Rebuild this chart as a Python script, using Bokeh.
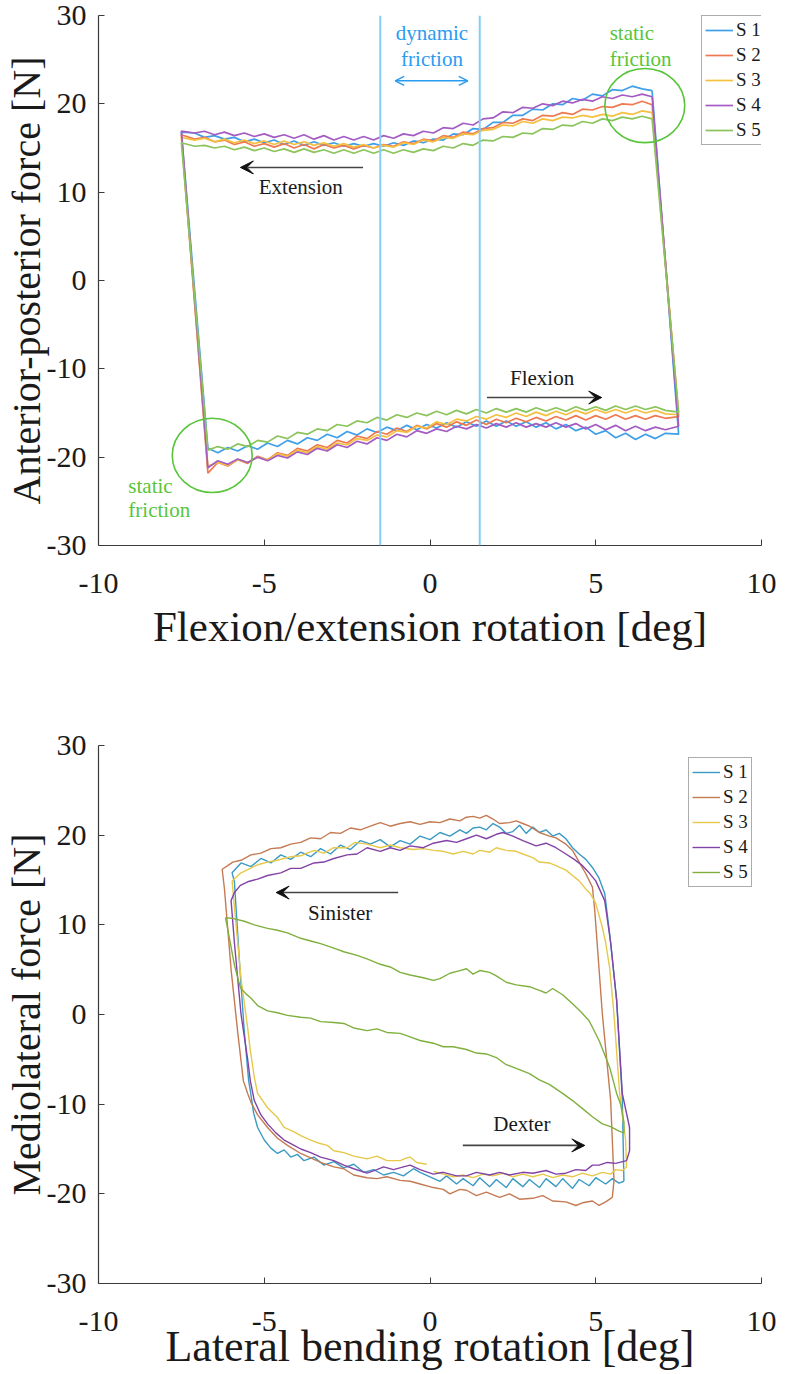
from bokeh.plotting import figure
from bokeh.models import (Range1d, FixedTicker, Legend, LegendItem, Label,
                          Arrow, VeeHead, OpenHead, Span)
from bokeh.layouts import column
from bokeh.embed import file_html
from bokeh.resources import INLINE

SERIES = ["S 1", "S 2", "S 3", "S 4", "S 5"]
FE_COLORS = ["#3f9fe8", "#ef7a50", "#f5c040", "#a45cc2", "#8cc45c"]
LB_COLORS = ["#3a9ac4", "#c47a52", "#e6c94a", "#8242a6", "#7fb03e"]

X_TICKS = [-10, -5, 0, 5, 10]
X_TICK_LABELS = ["-10", "-5", "0", "5", "10"]
Y_TICKS = [-30, -20, -10, 0, 10, 20, 30]
Y_TICK_LABELS = ["-30", "-20", "-10", "0", "10", "20", "30"]

# ---------------- flexion / extension (upper chart) ----------------
# rotation samples along the extension stroke (moving left) and flexion stroke (moving right)
FE_EXT_X = [6.7, 6.4, 6.1, 5.8, 5.5, 5.2, 4.9, 4.6, 4.3, 4.0, 3.7, 3.4, 3.1, 2.8, 2.5, 2.2,
            1.9, 1.6, 1.3, 1.0, 0.7, 0.4, 0.1, -0.2, -0.5, -0.8, -1.1, -1.4, -1.7, -2.0, -2.3,
            -2.6, -2.9, -3.2, -3.5, -3.8, -4.1, -4.4, -4.7, -5.0, -5.3, -5.6, -5.9, -6.2, -6.5,
            -6.8, -7.1, -7.5]
FE_FLEX_X = [-6.7, -6.4, -6.1, -5.8, -5.5, -5.2, -4.9, -4.6, -4.3, -4.0, -3.7, -3.4, -3.1, -2.8,
             -2.5, -2.2, -1.9, -1.6, -1.3, -1.0, -0.7, -0.4, -0.1, 0.2, 0.5, 0.8, 1.1, 1.4, 1.7,
             2.0, 2.3, 2.6, 2.9, 3.2, 3.5, 3.8, 4.1, 4.4, 4.7, 5.0, 5.3, 5.6, 5.9, 6.2, 6.5, 6.8,
             7.1, 7.5]

FE_EXT_S1 = [21.5, 21.7, 22.0, 21.5, 21.6, 20.9, 21.1, 20.4, 20.6, 19.9, 20.0, 19.3, 19.4, 18.7,
             18.7, 17.9, 17.9, 17.1, 17.2, 16.5, 16.6, 15.9, 16.0, 15.6, 15.8, 15.3, 15.6, 15.2,
             15.5, 15.2, 15.5, 15.2, 15.6, 15.3, 15.7, 15.3, 15.8, 15.4, 15.9, 15.6, 16.0, 15.7,
             16.2, 16.0, 16.4, 16.2, 16.7, 16.8]
FE_EXT_S2 = [19.9, 20.3, 19.9, 20.0, 19.6, 19.7, 19.3, 19.4, 18.8, 19.0, 18.6, 18.7, 18.1, 18.3,
             17.8, 17.9, 17.3, 17.2, 16.6, 16.8, 16.2, 16.4, 15.8, 16.0, 15.5, 15.7, 15.2, 15.4,
             15.0, 15.3, 14.9, 15.3, 15.0, 15.4, 14.9, 15.4, 15.0, 15.5, 15.1, 15.5, 15.2, 15.7,
             15.4, 15.9, 15.7, 16.2, 16.0, 16.5]
FE_EXT_S3 = [19.0, 19.2, 18.8, 19.0, 18.6, 18.8, 18.5, 18.7, 18.4, 18.5, 18.1, 18.3, 17.8, 18.0,
             17.5, 17.6, 17.1, 17.0, 16.5, 16.6, 16.1, 16.2, 15.7, 15.9, 15.4, 15.6, 15.1, 15.3,
             15.0, 15.4, 15.1, 15.5, 15.2, 15.6, 15.3, 15.7, 15.4, 15.8, 15.4, 15.8, 15.5, 15.9,
             15.6, 16.0, 15.7, 16.1, 15.9, 16.2]
FE_EXT_S4 = [20.8, 21.1, 20.8, 21.0, 20.6, 20.8, 20.3, 20.5, 20.1, 20.3, 19.8, 20.0, 19.5, 19.6,
             19.0, 19.1, 18.4, 18.3, 17.6, 17.8, 17.2, 17.3, 16.7, 16.9, 16.4, 16.6, 16.1, 16.4,
             15.9, 16.3, 15.9, 16.3, 15.9, 16.4, 16.0, 16.5, 16.1, 16.5, 16.2, 16.6, 16.3, 16.7,
             16.4, 16.8, 16.5, 16.9, 16.7, 16.9]
FE_EXT_S5 = [18.3, 18.6, 18.3, 18.5, 18.1, 18.3, 17.8, 18.0, 17.5, 17.6, 17.1, 17.2, 16.6, 16.7,
             16.2, 16.3, 15.8, 15.9, 15.3, 15.5, 15.0, 15.2, 14.7, 14.9, 14.5, 14.8, 14.4, 14.8,
             14.4, 14.8, 14.4, 14.8, 14.4, 14.8, 14.5, 14.9, 14.5, 14.9, 14.6, 15.0, 14.7, 15.1,
             14.8, 15.2, 15.0, 15.3, 15.2, 15.6]

FE_FLEX_S1 = [-19.0, -19.5, -18.9, -19.3, -18.7, -19.1, -18.4, -18.8, -18.1, -18.5, -17.8, -18.1,
              -17.4, -17.8, -17.1, -17.5, -16.8, -17.2, -16.6, -17.0, -16.4, -16.9, -16.3, -16.7,
              -16.1, -16.6, -16.0, -16.5, -15.9, -16.5, -15.9, -16.5, -16.0, -16.6, -16.1, -16.8,
              -16.3, -17.0, -16.6, -17.4, -17.0, -17.8, -17.3, -18.0, -17.4, -17.9, -17.3, -17.4]
FE_FLEX_S2 = [-21.8, -20.6, -21.0, -20.3, -20.7, -19.9, -20.3, -19.5, -19.8, -19.0, -19.3, -18.6,
              -18.9, -18.1, -18.4, -17.6, -17.9, -17.1, -17.4, -16.7, -17.1, -16.4, -16.8, -16.2,
              -16.6, -16.0, -16.4, -15.8, -16.3, -15.7, -16.1, -15.6, -16.0, -15.5, -15.9, -15.4,
              -15.8, -15.3, -15.8, -15.3, -15.7, -15.2, -15.7, -15.3, -15.7, -15.3, -15.6, -15.4]
FE_FLEX_S3 = [-21.0, -20.6, -20.9, -20.3, -20.6, -20.0, -20.3, -19.6, -19.9, -19.2, -19.5, -18.8,
              -19.1, -18.4, -18.6, -17.9, -18.1, -17.5, -17.7, -17.0, -17.2, -16.5, -16.7, -16.0,
              -16.3, -15.7, -15.9, -15.4, -15.7, -15.2, -15.5, -15.0, -15.4, -14.9, -15.3, -14.8,
              -15.2, -14.7, -15.1, -14.6, -15.0, -14.6, -15.0, -14.6, -15.0, -14.7, -15.1, -15.2]
FE_FLEX_S4 = [-21.2, -20.4, -20.8, -20.2, -20.6, -20.0, -20.4, -19.8, -20.1, -19.4, -19.7, -19.0,
              -19.3, -18.6, -18.9, -18.2, -18.5, -17.8, -18.1, -17.4, -17.7, -17.0, -17.3, -16.8,
              -17.1, -16.5, -16.8, -16.3, -16.7, -16.2, -16.6, -16.1, -16.6, -16.2, -16.6, -16.1,
              -16.6, -16.2, -16.8, -16.3, -16.9, -16.4, -17.0, -16.5, -17.0, -16.6, -16.9, -16.5]
FE_FLEX_S5 = [-19.2, -18.8, -19.1, -18.5, -18.8, -18.1, -18.3, -17.6, -17.9, -17.2, -17.4, -16.8,
              -17.0, -16.3, -16.5, -15.9, -16.1, -15.5, -15.8, -15.2, -15.5, -15.0, -15.3, -14.8,
              -15.2, -14.7, -15.1, -14.6, -15.0, -14.5, -14.9, -14.5, -14.9, -14.4, -14.8, -14.4,
              -14.8, -14.3, -14.7, -14.3, -14.7, -14.2, -14.6, -14.2, -14.6, -14.3, -14.7, -14.9]

FE_EXT = [FE_EXT_S1, FE_EXT_S2, FE_EXT_S3, FE_EXT_S4, FE_EXT_S5]
FE_FLEX = [FE_FLEX_S1, FE_FLEX_S2, FE_FLEX_S3, FE_FLEX_S4, FE_FLEX_S5]

# ---------------- lateral bending (lower chart) ----------------
# (rotation [deg], force [N]) samples around each hysteresis loop
LB_S1 = [(5.85, -18.6), (5.8, -9.3), (5.63, 1.6), (5.42, 9.0), (5.27, 13.5), (5.1, 15.2), (4.9, 16.4),
         (4.7, 17.3), (4.5, 17.9), (4.3, 18.6), (4.1, 19.6), (3.9, 20.2), (3.7, 19.9), (3.5, 20.6),
         (3.3, 20.3), (3.1, 20.9), (2.9, 20.2), (2.7, 21.1), (2.5, 20.4), (2.3, 20.2), (2.1, 20.9),
         (1.9, 21.3), (1.7, 20.6), (1.5, 20.9), (1.3, 20.8), (1.1, 20.2), (0.9, 20.6), (0.6, 19.9),
         (0.3, 20.3), (0.0, 19.5), (-0.3, 19.9), (-0.6, 19.0), (-0.9, 19.4), (-1.2, 18.7), (-1.5, 19.5),
         (-1.8, 19.0), (-2.1, 19.4), (-2.4, 18.4), (-2.7, 18.9), (-3.0, 17.9), (-3.3, 18.5), (-3.6, 17.6),
         (-3.9, 18.1), (-4.2, 17.3), (-4.5, 17.8), (-4.8, 16.9), (-5.1, 17.4), (-5.4, 16.5), (-5.7, 16.9),
         (-5.97, 15.8), (-5.9, 14.8), (-5.75, 6.0), (-5.6, -2.0), (-5.47, -7.4), (-5.42, -8.5),
         (-5.32, -11.0), (-5.2, -12.6), (-5.0, -14.0), (-4.8, -14.9), (-4.6, -15.5), (-4.4, -15.1),
         (-4.2, -15.9), (-4.0, -15.6), (-3.8, -16.3), (-3.5, -15.9), (-3.2, -16.8), (-2.9, -16.4),
         (-2.6, -17.1), (-2.3, -16.7), (-2.0, -17.6), (-1.7, -17.3), (-1.4, -17.9), (-1.1, -17.6),
         (-0.8, -18.0), (-0.5, -17.2), (-0.3, -17.6), (0.0, -18.1), (0.3, -18.6), (0.5, -18.0),
         (0.8, -18.9), (1.0, -18.3), (1.3, -19.1), (1.5, -18.2), (1.8, -19.2), (2.0, -18.4),
         (2.3, -19.3), (2.5, -18.3), (2.8, -19.2), (3.0, -18.4), (3.3, -19.3), (3.5, -18.3),
         (3.8, -19.2), (4.0, -18.3), (4.3, -19.4), (4.5, -18.4), (4.8, -19.1), (5.0, -18.2),
         (5.3, -18.9), (5.5, -18.3), (5.7, -18.8), (5.85, -18.6)]
LB_S2 = [(5.5, -20.4), (5.55, -18.5), (5.45, -9.6), (5.2, 0.0), (4.97, 11.6), (4.9, 14.2), (4.7, 15.7),
         (4.5, 17.0), (4.3, 18.3), (4.1, 19.0), (3.8, 19.7), (3.6, 19.9), (3.3, 20.3), (3.0, 21.0),
         (2.8, 21.3), (2.6, 21.6), (2.4, 21.4), (2.1, 21.3), (1.9, 21.8), (1.7, 22.2), (1.5, 21.9),
         (1.3, 22.1), (1.1, 22.0), (0.9, 21.6), (0.6, 21.8), (0.3, 21.4), (0.0, 21.5), (-0.3, 21.2),
         (-0.6, 21.5), (-0.9, 21.3), (-1.2, 21.0), (-1.5, 21.4), (-1.8, 21.0), (-2.1, 20.6),
         (-2.4, 20.8), (-2.7, 20.2), (-3.0, 20.3), (-3.3, 19.6), (-3.6, 19.7), (-3.9, 19.2),
         (-4.2, 19.0), (-4.5, 18.6), (-4.8, 18.5), (-5.1, 18.0), (-5.4, 17.8), (-5.7, 17.2),
         (-5.95, 17.0), (-6.1, 16.6), (-6.27, 16.2), (-6.2, 14.0), (-6.0, 5.0), (-5.8, -2.0),
         (-5.63, -7.4), (-5.5, -8.8), (-5.4, -9.8), (-5.2, -11.2), (-4.9, -12.6), (-4.6, -13.8),
         (-4.3, -14.6), (-3.9, -15.5), (-3.6, -16.0), (-3.3, -16.5), (-2.9, -17.0), (-2.6, -17.2),
         (-2.3, -17.9), (-1.9, -18.2), (-1.6, -18.3), (-1.3, -18.1), (-0.9, -18.5), (-0.6, -18.6),
         (-0.3, -18.9), (0.1, -19.3), (0.4, -19.5), (0.6, -20.0), (0.9, -19.5), (1.1, -19.6),
         (1.4, -20.2), (1.7, -19.8), (2.1, -20.4), (2.4, -20.0), (2.7, -20.6), (3.1, -20.5),
         (3.4, -20.2), (3.7, -20.8), (4.1, -20.9), (4.4, -21.3), (4.6, -21.0), (4.9, -20.8),
         (5.1, -21.3), (5.3, -20.9), (5.5, -20.4)]
LB_S3 = [(0.1, -17.5), (0.4, -17.8), (0.7, -18.1), (1.0, -17.9), (1.3, -18.2), (1.6, -17.8),
         (1.9, -18.0), (2.2, -17.7), (2.5, -18.1), (2.8, -17.8), (3.1, -18.1), (3.4, -17.8),
         (3.7, -18.2), (4.0, -17.9), (4.3, -18.1), (4.6, -17.7), (4.9, -18.0), (5.2, -17.6),
         (5.45, -17.8), (5.6, -17.3), (5.8, -17.4), (5.93, -17.0), (5.9, -14.0), (5.72, -8.8),
         (5.55, 0.0), (5.42, 5.2), (5.3, 8.0), (5.2, 9.7), (5.0, 12.4), (4.85, 13.4), (4.7, 14.0),
         (4.5, 14.9), (4.3, 15.5), (4.1, 16.1), (3.8, 16.6), (3.6, 16.9), (3.3, 17.0), (3.1, 17.5),
         (2.8, 17.9), (2.6, 18.2), (2.3, 18.3), (2.0, 18.6), (1.8, 18.1), (1.5, 18.3), (1.3, 17.9),
         (1.0, 18.2), (0.7, 17.9), (0.4, 18.2), (0.1, 18.3), (-0.2, 18.5), (-0.5, 18.4), (-0.9, 18.6),
         (-1.2, 18.9), (-1.5, 18.6), (-1.9, 19.0), (-2.26, 19.2), (-2.5, 18.6), (-2.9, 18.6),
         (-3.2, 18.0), (-3.5, 18.3), (-3.9, 17.7), (-4.2, 17.6), (-4.6, 17.2), (-4.9, 17.0),
         (-5.2, 16.7), (-5.42, 16.3), (-5.7, 15.8), (-5.97, 14.9), (-5.9, 12.0), (-5.7, 4.0),
         (-5.5, -1.5), (-5.42, -4.0), (-5.3, -7.0), (-5.2, -8.8), (-4.9, -10.4), (-4.6, -11.5),
         (-4.4, -12.6), (-4.1, -13.1), (-3.9, -13.5), (-3.6, -14.0), (-3.4, -14.3), (-3.1, -14.6),
         (-2.9, -15.2), (-2.6, -15.4), (-2.3, -15.8), (-1.9, -16.1), (-1.6, -15.8), (-1.3, -16.3),
         (-0.9, -16.3), (-0.7, -16.0), (-0.6, -15.9), (-0.4, -16.5), (-0.1, -16.7)]
LB_S4 = [(5.6, -16.6), (5.93, -16.3), (6.02, -15.2), (6.02, -12.6), (5.8, -8.8), (5.63, 1.6),
         (5.45, 8.0), (5.27, 12.7), (5.0, 14.9), (4.8, 15.8), (4.6, 16.6), (4.35, 17.3), (4.1, 17.9),
         (3.8, 18.6), (3.5, 19.1), (3.2, 18.8), (2.8, 19.4), (2.5, 19.9), (2.2, 20.3), (2.0, 20.1),
         (1.7, 19.6), (1.4, 20.0), (1.1, 19.6), (0.8, 19.2), (0.5, 19.4), (0.1, 19.1), (-0.2, 18.6),
         (-0.6, 18.8), (-0.9, 18.3), (-1.2, 18.6), (-1.5, 18.2), (-1.9, 18.6), (-2.2, 17.9),
         (-2.5, 17.8), (-2.9, 17.4), (-3.2, 17.0), (-3.5, 16.9), (-3.9, 16.3), (-4.2, 16.3),
         (-4.5, 15.8), (-4.9, 15.5), (-5.2, 15.1), (-5.5, 14.8), (-5.72, 14.4), (-5.9, 13.6),
         (-6.0, 12.7), (-5.9, 8.0), (-5.7, 0.0), (-5.5, -5.0), (-5.42, -7.4), (-5.3, -9.6),
         (-5.1, -11.2), (-4.9, -12.2), (-4.65, -13.2), (-4.4, -14.0), (-4.1, -14.6), (-3.9, -15.0),
         (-3.6, -15.4), (-3.3, -15.9), (-2.9, -16.3), (-2.6, -16.8), (-2.3, -17.2), (-1.9, -17.7),
         (-1.6, -17.3), (-1.4, -17.0), (-1.1, -17.3), (-0.8, -17.0), (-0.6, -16.8), (-0.3, -17.3),
         (0.1, -17.8), (0.4, -17.6), (0.8, -18.0), (1.1, -18.0), (1.4, -17.6), (1.8, -17.9),
         (2.1, -17.6), (2.4, -17.9), (2.8, -17.6), (3.1, -17.7), (3.5, -17.4), (3.8, -17.8),
         (4.1, -17.7), (4.4, -17.3), (4.7, -17.4), (4.9, -16.8), (5.1, -16.8), (5.35, -16.5),
         (5.6, -16.6)]
LB_S5 = [(-6.17, 10.8), (-6.1, 9.5), (-6.0, 7.5), (-5.9, 5.5), (-5.72, 3.0), (-5.55, 2.3),
         (-5.42, 1.9), (-5.2, 1.0), (-4.9, 0.4), (-4.6, 0.2), (-4.3, -0.1), (-3.9, -0.3), (-3.6, -0.4),
         (-3.3, -0.8), (-2.9, -0.9), (-2.6, -1.0), (-2.3, -1.5), (-1.9, -1.8), (-1.6, -1.6),
         (-1.3, -2.0), (-0.9, -2.1), (-0.6, -2.5), (-0.3, -2.9), (0.1, -3.2), (0.4, -3.6), (0.7, -3.6),
         (1.1, -3.9), (1.4, -4.3), (1.7, -4.4), (2.0, -4.8), (2.3, -5.6), (2.6, -6.0), (3.0, -6.6),
         (3.3, -7.3), (3.6, -7.8), (4.0, -8.8), (4.3, -9.6), (4.6, -10.5), (4.9, -11.4), (5.2, -12.2),
         (5.45, -12.5), (5.7, -13.0), (5.85, -13.2), (5.85, -12.0), (5.75, -10.0), (5.63, -8.8),
         (5.42, -5.9), (5.25, -4.3), (5.1, -2.9), (4.8, -0.7), (4.55, 0.3), (4.3, 1.2), (4.0, 2.2),
         (3.7, 2.9), (3.5, 2.4), (3.3, 2.7), (3.0, 3.1), (2.6, 3.3), (2.3, 3.6), (2.0, 4.3), (1.8, 4.7),
         (1.5, 4.9), (1.3, 4.5), (1.1, 5.1), (0.9, 4.9), (0.6, 4.6), (0.3, 4.0), (0.1, 3.8),
         (-0.2, 4.1), (-0.6, 4.4), (-0.9, 4.7), (-1.2, 5.3), (-1.5, 5.6), (-1.9, 6.2), (-2.2, 6.6),
         (-2.6, 7.0), (-2.9, 7.4), (-3.3, 7.9), (-3.6, 8.2), (-3.9, 8.5), (-4.3, 9.1), (-4.6, 9.4),
         (-4.9, 9.6), (-5.3, 10.0), (-5.6, 10.4), (-5.93, 10.7), (-6.17, 10.8)]

LB_LOOPS = [LB_S1, LB_S2, LB_S3, LB_S4, LB_S5]

SERIF = "Liberation Serif"
AXIS_COLOR = "#3a3a3a"
TEXT_COLOR = "#1a1a1a"
FRICTION_BLUE = "#2a9cf0"
SPAN_BLUE = "#86cdf7"
STATIC_GREEN = "#58c53a"


def make_figure(border_top, frame_h, border_bottom, xlabel, ylabel, xlabel_size, xlabel_standoff):
    p = figure(frame_width=663, frame_height=frame_h,
               min_border_left=97, min_border_right=26,
               min_border_top=border_top, min_border_bottom=border_bottom,
               x_range=Range1d(-10, 10), y_range=Range1d(-30, 30),
               output_backend="svg", toolbar_location=None,
               background_fill_color="white", border_fill_color="white")
    p.outline_line_color = None
    p.grid.visible = False
    p.xaxis.ticker = FixedTicker(ticks=X_TICKS)
    p.yaxis.ticker = FixedTicker(ticks=Y_TICKS)
    p.xaxis.major_label_overrides = dict(zip(X_TICKS, X_TICK_LABELS))
    p.yaxis.major_label_overrides = dict(zip(Y_TICKS, Y_TICK_LABELS))
    for ax in (p.xaxis[0], p.yaxis[0]):
        ax.axis_line_color = AXIS_COLOR
        ax.axis_line_width = 1.2
        ax.major_tick_line_color = AXIS_COLOR
        ax.major_tick_in = 6
        ax.major_tick_out = 0
        ax.minor_tick_line_color = None
        ax.major_label_text_font = SERIF
        ax.major_label_text_font_size = "30px"
        ax.major_label_text_color = TEXT_COLOR
        ax.axis_label_text_font = SERIF
        ax.axis_label_text_font_style = "normal"
        ax.axis_label_text_line_height = 1.0
        ax.axis_label_text_color = TEXT_COLOR
    p.xaxis.axis_label = xlabel
    p.xaxis.axis_label_text_font_size = xlabel_size
    p.yaxis.axis_label = ylabel
    p.yaxis.axis_label_text_font_size = "40px"
    p.xaxis.major_label_standoff = 28
    p.xaxis.axis_label_standoff = xlabel_standoff
    p.yaxis.major_label_standoff = 12
    p.yaxis.axis_label_standoff = -5
    return p


def add_legend(p, renderers, loc):
    items = [LegendItem(label=name, renderers=[r]) for name, r in zip(SERIES, renderers)]
    legend = Legend(items=items, location=loc,
                    label_text_font=SERIF, label_text_font_size="19px",
                    label_text_color=TEXT_COLOR, label_height=20, glyph_height=20,
                    glyph_width=28, label_standoff=3, spacing=3, padding=3, margin=0,
                    border_line_color="#5a5a5a", border_line_width=1.2,
                    background_fill_color="white", background_fill_alpha=1.0)
    p.add_layout(legend)


def add_text(p, x, y, text, color=TEXT_COLOR, align="center"):
    p.add_layout(Label(x=x, y=y, text=text, text_font=SERIF, text_font_size="21px",
                       text_color=color, text_align=align, text_baseline="middle"))


def add_arrow(p, x0, x1, y):
    p.add_layout(Arrow(end=VeeHead(size=13, fill_color="#111111", line_color="#111111"),
                       x_start=x0, y_start=y, x_end=x1, y_end=y,
                       line_color="#444444", line_width=1.6))


# ---------------- upper chart ----------------
p1 = make_figure(15, 530, 152, "Flexion/extension rotation [deg]",
                 "Anterior-posterior force [N]", "43px", 7)

for loc in (-1.5, 1.5):
    p1.add_layout(Span(location=loc, dimension="height", line_color=SPAN_BLUE, line_width=2))

fe_renderers = []
for ext, flex, color in zip(FE_EXT, FE_FLEX, FE_COLORS):
    xs = FE_EXT_X + FE_FLEX_X + [FE_EXT_X[0]]
    ys = ext + flex + [ext[0]]
    fe_renderers.append(p1.line(xs, ys, line_color=color, line_width=1.7))

p1.ellipse(x=[6.48, -6.57], y=[19.8, -19.8], width=2.41, height=8.4,
           fill_color=None, line_color=STATIC_GREEN, line_width=1.6)

add_text(p1, 0.06, 28.0, "dynamic", FRICTION_BLUE)
add_text(p1, 0.06, 25.1, "friction", FRICTION_BLUE)
p1.add_layout(Arrow(start=OpenHead(size=9, line_color=FRICTION_BLUE, line_width=1.5),
                    end=OpenHead(size=9, line_color=FRICTION_BLUE, line_width=1.5),
                    x_start=-1.05, y_start=22.6, x_end=1.14, y_end=22.6,
                    line_color=FRICTION_BLUE, line_width=1.5))

add_text(p1, 5.42, 28.0, "static", STATIC_GREEN, "left")
add_text(p1, 5.42, 25.1, "friction", STATIC_GREEN, "left")
add_text(p1, -9.1, -23.3, "static", STATIC_GREEN, "left")
add_text(p1, -9.1, -26.0, "friction", STATIC_GREEN, "left")

add_arrow(p1, -2.02, -5.72, 12.8)
add_text(p1, -3.9, 10.6, "Extension")
add_arrow(p1, 1.72, 5.18, -13.25)
add_text(p1, 3.38, -11.0, "Flexion")

add_legend(p1, fe_renderers, (603, 400))

# ---------------- lower chart ----------------
p2 = make_figure(48, 538, 89, "Lateral bending rotation [deg]",
                 "Mediolateral force [N]", "44px", -12)

lb_renderers = []
for pts, color in zip(LB_LOOPS, LB_COLORS):
    xs = [pt[0] for pt in pts]
    ys = [pt[1] for pt in pts]
    lb_renderers.append(p2.line(xs, ys, line_color=color, line_width=1.4))

add_arrow(p2, -0.96, -4.64, 13.6)
add_text(p2, -2.71, 11.3, "Sinister")
add_arrow(p2, 0.99, 4.67, -14.6)
add_text(p2, 2.77, -12.2, "Dexter")

add_legend(p2, lb_renderers, (590, 396))

layout = column(p1, p2, spacing=0)
open("out.html", "w").write(file_html(layout, INLINE))
